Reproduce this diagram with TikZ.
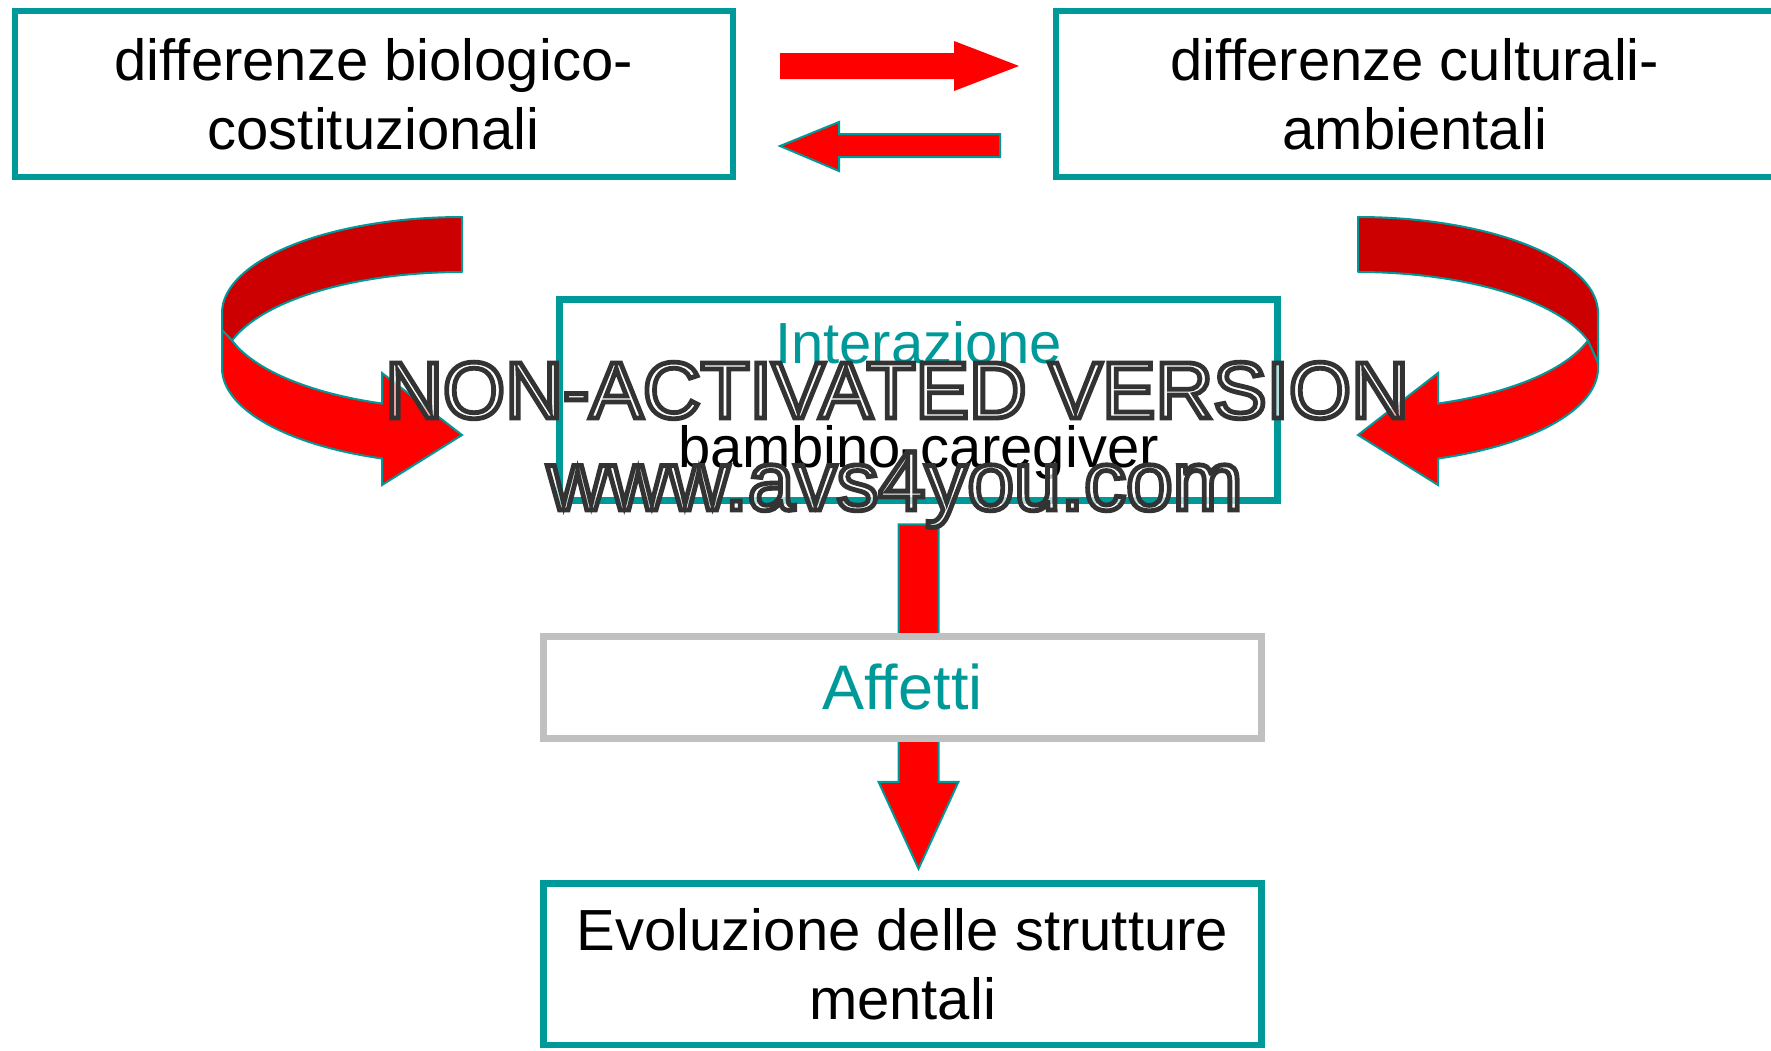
\documentclass[tikz,border=0pt]{standalone}
\usepackage{fontspec}
\setmainfont{Liberation Sans}[Ligatures=NoCommon]
\usetikzlibrary{calc}
\definecolor{tealc}{RGB}{0,153,153}
\definecolor{ribbondark}{RGB}{204,0,0}
\definecolor{boxgray}{RGB}{192,192,192}
\newcommand\ribbonarrow[1]{%
  \filldraw[ribbonback] plot[domain=-90:-180,samples=60] ({462+240*cos(\x)},{313+96*sin(\x)})
    -- (222,#1) -- (232.1,340.6)
    -- plot[domain=-163.3:-90,samples=60] ({462+240*cos(\x)},{368+96*sin(\x)}) -- cycle;
  \filldraw[ribbonfront] (222,#1) -- (232.1,340.6)
    -- plot[domain=163.3:109.47,samples=60] ({462+240*cos(\x)},{313+96*sin(\x)})
    -- (382,373) -- (462,435) -- (382,485)
    -- plot[domain=109.47:180,samples=60] ({462+240*cos(\x)},{368+96*sin(\x)}) -- cycle;
}
\newcommand\outlinetext[1]{\special{pdf:literal direct 2 Tr 2.4 w 0.2 0.2 0.2 RG}#1\special{pdf:literal direct 0 Tr}}
\begin{document}
\begin{tikzpicture}[x=0.5pt,y=-0.5pt,
  box/.style={draw=tealc, line width=3.25pt, fill=white, minimum width=359pt,
    align=center, inner sep=0pt, font=\fontsize{29}{34.5}\selectfont},
  grayboxstyle/.style={box, draw=boxgray, line width=3.5pt},
  blockarrow/.style={fill=red, draw=tealc, line width=1pt, line join=miter},
  plainarrow/.style={fill=red, draw=none},
  ribbonback/.style={fill=ribbondark, draw=tealc, line width=1pt, line join=round},
  ribbonfront/.style={fill=red, draw=tealc, line width=1pt, line join=miter},
  wmtext/.style={anchor=base, inner sep=0pt, text=white}]
\useasboundingbox (0,0) rectangle (1771,1050);
\fill[white] (0,0) rectangle (1771,1050);

% boxes
\node[box, minimum height=83pt] (bio) at (373.75,94) {differenze biologico-\\costituzionali};
\node[box, minimum height=83pt] (cult) at (1414.75,94) {differenze culturali-\\ambientali};
\node[box, minimum height=100.5pt] (inter) at (918.5,400)
  {\textcolor{tealc}{Interazione}\\[17.5pt]bambino-caregiver};
\node[box, minimum height=80.75pt] (evo) at (902.5,964.25) {Evoluzione delle strutture\\mentali};

% horizontal arrows
\coordinate (ra) at ($(bio.east)+(44,-28)$);
\coordinate (rt) at ($(cult.west)+(-33.5,-28)$);
\fill[plainarrow] ($(ra)+(0,-13)$) -- ($(rt)+(-65,-13)$) -- ($(rt)+(-65,-25)$) -- (rt)
  -- ($(rt)+(-65,25)$) -- ($(rt)+(-65,13)$) -- ($(ra)+(0,13)$) -- cycle;
\coordinate (lt) at ($(bio.east)+(44,52)$);
\coordinate (la) at ($(cult.west)+(-52.5,52)$);
\filldraw[blockarrow] (lt) -- ($(lt)+(59,-24)$) -- ($(lt)+(59,-12)$) -- ($(la)+(0,-12)$)
  -- ($(la)+(0,11)$) -- ($(lt)+(59,11)$) -- ($(lt)+(59,25)$) -- cycle;

% curved ribbon arrows
\ribbonarrow{330}
\begin{scope}[shift={(1820,0)}, xscale=-1]
\ribbonarrow{363}
\end{scope}

% vertical arrow
\coordinate (dtip) at ($(evo.north)+(16,-11.5)$);
\filldraw[blockarrow] ($(inter.south)+(-20,20.5)$) -- ($(inter.south)+(20,20.5)$)
  -- ($(dtip)+(20,-87)$) -- ($(dtip)+(40,-87)$) -- (dtip) -- ($(dtip)+(-40,-87)$)
  -- ($(dtip)+(-20,-87)$) -- cycle;
\node[grayboxstyle, minimum height=51pt, text=tealc, font=\fontsize{31.5}{37}\selectfont]
  (aff) at (902.5,687) {Affetti};

% watermark
\begin{scope}[fill opacity=0.7, draw opacity=1]
\node[wmtext, font=\fontsize{40}{48}\selectfont] (wma) at (897,418) {\outlinetext{NON-ACTIVATED VERSION}};
\node[wmtext, font=\fontsize{42}{50}\selectfont] (wmb) at (895,510) {\outlinetext{www.avs4you.com}};
\end{scope}
\end{tikzpicture}
\end{document}
